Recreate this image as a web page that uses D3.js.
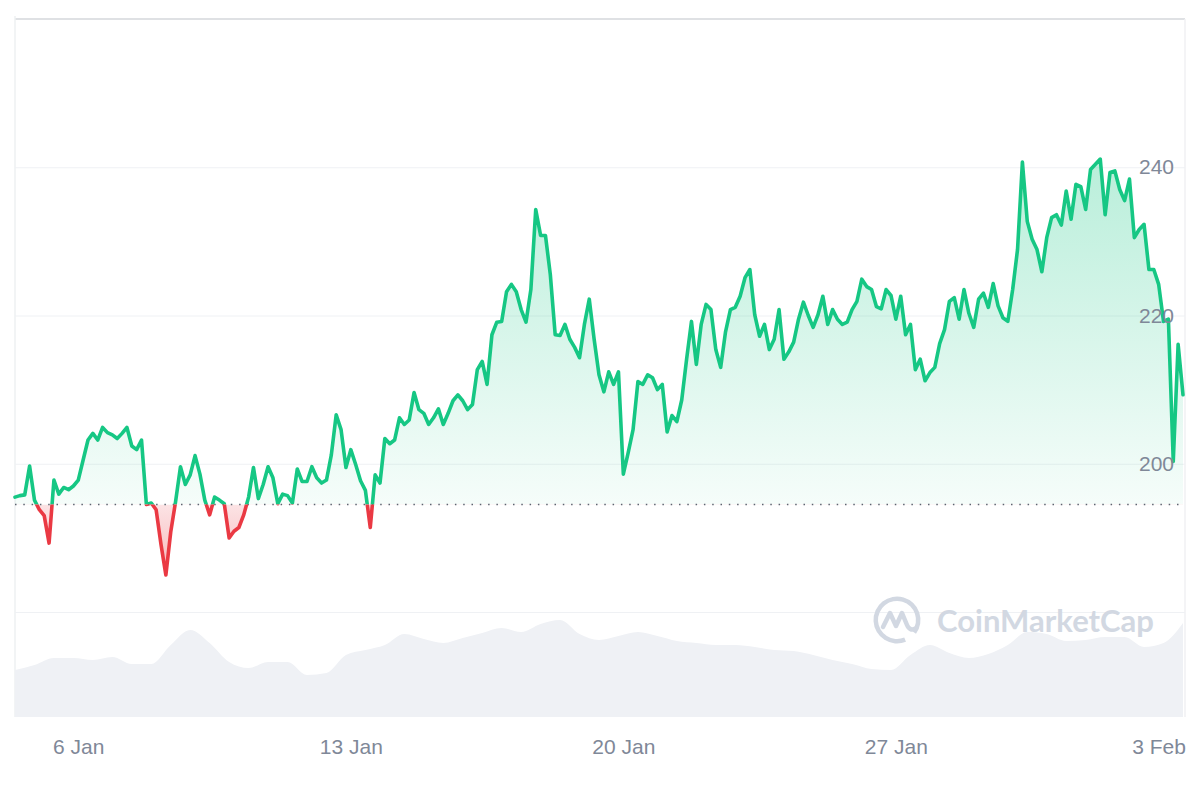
<!DOCTYPE html>
<html>
<head>
<meta charset="utf-8">
<script src="https://cdn.jsdelivr.net/npm/d3@7"></script>
<style>
  body { margin: 0; background: #fff; }
  svg { display: block; }
</style>
</head>
<body>
<script>
// price every 3 hours, starting 4 Jan 09:00
var startTime = new Date(2025, 0, 4, 9);
var stepHours = 3;
var prices = [
  195.5, 195.7, 195.8, 199.7, 195.1, 193.8, 193.0, 189.3, 197.8, 195.9,
  196.8, 196.5, 197.0, 197.8, 200.5, 203.2, 204.1, 203.2, 204.9, 204.2,
  203.9, 203.4, 204.1, 204.9, 202.4, 201.9, 203.2, 194.5, 194.7, 193.8,
  189.1, 185.0, 190.8, 194.9, 199.6, 197.2, 198.5, 201.1, 198.6, 195.1,
  193.1, 195.5, 195.1, 194.6, 190.0, 190.9, 191.4, 193.1, 195.5, 199.5,
  195.3, 197.2, 199.6, 198.1, 194.6, 195.9, 195.7, 194.7, 199.3, 197.6,
  197.6, 199.6, 198.1, 197.4, 197.8, 201.2, 206.6, 204.6, 199.5, 201.9,
  199.9, 197.7, 196.4, 191.4, 198.5, 197.4, 203.4, 202.7, 203.2, 206.2,
  205.3, 205.9, 209.6, 207.3, 206.8, 205.3, 206.2, 207.4, 205.3, 206.8,
  208.5, 209.3, 208.5, 207.3, 208.0, 212.7, 213.8, 210.7, 217.4, 219.1,
  219.2, 223.2, 224.2, 223.2, 220.8, 219.1, 223.5, 234.3, 230.8, 230.8,
  225.5, 217.4, 217.3, 218.8, 216.8, 215.7, 214.3, 218.8, 222.2, 216.8,
  212.0, 209.7, 212.4, 210.7, 212.4, 198.6, 201.5, 204.6, 211.1, 210.7,
  212.0, 211.6, 210.0, 210.7, 204.3, 206.5, 205.7, 208.6, 214.1, 219.2,
  213.4, 218.8, 221.5, 220.8, 215.4, 213.0, 217.8, 220.8, 221.1, 222.6,
  225.1, 226.2, 220.1, 217.2, 218.8, 215.4, 216.8, 220.8, 214.1, 215.1,
  216.4, 219.5, 221.8, 220.0, 218.4, 220.1, 222.6, 218.8, 220.8, 219.5,
  218.8, 219.1, 220.8, 221.9, 224.9, 223.9, 223.5, 221.2, 220.9, 223.5,
  222.7, 219.5, 222.6, 217.4, 218.8, 212.7, 214.1, 211.2, 212.3, 213.0,
  216.2, 218.1, 221.9, 222.4, 219.5, 223.5, 220.3, 218.4, 222.2, 223.0,
  221.1, 224.3, 221.3, 219.7, 219.2, 223.5, 228.9, 240.7, 232.7, 230.3,
  228.9, 225.9, 230.5, 233.2, 233.6, 232.2, 236.8, 233.0, 237.7, 237.4,
  234.3, 239.7, 240.4, 241.1, 233.6, 239.3, 239.5, 237.0, 235.5, 238.4,
  230.5, 231.6, 232.3, 226.2, 226.2, 224.2, 219.2, 219.5, 200.3, 216.1,
  209.3
];

// volume every 12 hours (relative units)
var volStepHours = 12;
var volumes = [
  470, 520, 590, 590, 570, 600, 530, 530, 720, 870,
  740, 550, 490, 550, 550, 420, 440, 620, 670, 720,
  830, 780, 740, 790, 840, 890, 850, 930, 970, 830,
  770, 810, 850, 810, 760, 740, 720, 720, 700, 670,
  660, 620, 570, 530, 480, 470, 620, 720, 640, 590,
  630, 720, 850, 830, 760, 770, 800, 800, 700, 740,
  940
];

var openPrice = 194.5;
var gridValues = [180, 200, 220, 240];
var priceLabels = [200, 220, 240];
var dateTicks = [new Date(2025, 0, 6), new Date(2025, 0, 13), new Date(2025, 0, 20),
                 new Date(2025, 0, 27), new Date(2025, 1, 3)];
var dateLabels = ["6 Jan", "13 Jan", "20 Jan", "27 Jan", "3 Feb"];

var width = 1200, height = 800;
var plotLeft = 15, plotRight = 1185, plotTop = 19, plotBottom = 717;
var green = "#16c784", red = "#ea3943";

var priceData = prices.map(function (p, i) {
  return { t: d3.timeHour.offset(startTime, i * stepHours), p: p };
});
var volData = volumes.map(function (v, i) {
  return { t: d3.timeHour.offset(startTime, i * volStepHours), v: v };
});

var svg = d3.select("body").append("svg").attr("width", width).attr("height", height);

var x = d3.scaleTime()
  .domain([startTime, priceData[priceData.length - 1].t])
  .range([plotLeft, 1183]);
var y = d3.scaleLinear().domain([180, 260]).range([612, plotTop]);
var yVol = d3.scaleLinear().domain([0, 1000]).range([plotBottom, 617]);
var baseY = y(openPrice);

var defs = svg.append("defs");
var gUp = defs.append("linearGradient").attr("id", "gUp")
  .attr("gradientUnits", "userSpaceOnUse").attr("x1", 0).attr("x2", 0)
  .attr("y1", 160).attr("y2", baseY);
gUp.append("stop").attr("offset", 0).attr("stop-color", green).attr("stop-opacity", 0.3);
gUp.append("stop").attr("offset", 1).attr("stop-color", green).attr("stop-opacity", 0.04);
var gDown = defs.append("linearGradient").attr("id", "gDown")
  .attr("gradientUnits", "userSpaceOnUse").attr("x1", 0).attr("x2", 0)
  .attr("y1", baseY).attr("y2", 580);
gDown.append("stop").attr("offset", 0).attr("stop-color", red).attr("stop-opacity", 0.14);
gDown.append("stop").attr("offset", 1).attr("stop-color", red).attr("stop-opacity", 0.38);

defs.append("clipPath").attr("id", "clipUp").append("rect")
  .attr("x", 0).attr("y", 0).attr("width", width).attr("height", baseY);
defs.append("clipPath").attr("id", "clipDown").append("rect")
  .attr("x", 0).attr("y", baseY).attr("width", width).attr("height", height - baseY);

// frame
svg.append("line").attr("x1", plotLeft).attr("x2", plotRight).attr("y1", plotTop).attr("y2", plotTop)
  .attr("stroke", "#dfe1e4").attr("stroke-width", 2);
svg.append("line").attr("x1", plotLeft).attr("x2", plotLeft).attr("y1", 16).attr("y2", plotBottom)
  .attr("stroke", "#eef0f2").attr("stroke-width", 1.5);
svg.append("line").attr("x1", plotRight).attr("x2", plotRight).attr("y1", plotTop).attr("y2", plotBottom)
  .attr("stroke", "#f0f1f3").attr("stroke-width", 1.5);

// grid lines
var grid = svg.append("g").attr("transform", "translate(" + plotLeft + ",0)")
  .call(d3.axisLeft(y).tickValues(gridValues).tickSize(-(plotRight - plotLeft)).tickFormat(""));
grid.select(".domain").remove();
grid.selectAll("line").attr("stroke", "#eff1f4").attr("stroke-width", 1);

// volume
svg.append("path").datum(volData)
  .attr("fill", "#eff1f5")
  .attr("d", d3.area().curve(d3.curveMonotoneX)
    .x(function (d) { return x(d.t); })
    .y0(plotBottom)
    .y1(function (d) { return yVol(d.v); }));

// watermark
var wm = svg.append("g").attr("transform", "translate(897,620)");
wm.append("path")
  .attr("d", d3.arc()({ innerRadius: 19, outerRadius: 23.5, startAngle: 2.75, endAngle: 2.75 + 2 * Math.PI - 0.55 }))
  .attr("fill", "#d2d8e2");
wm.append("path")
  .attr("d", "M-14,7 L-7,-7 L-1,6 L5,-7 L10,5 Q13,12 19,8")
  .attr("fill", "none").attr("stroke", "#d2d8e2").attr("stroke-width", 4.5)
  .attr("stroke-linejoin", "round").attr("stroke-linecap", "round");
svg.append("text").attr("x", 937).attr("y", 632)
  .attr("font-family", "Lato, 'Liberation Sans', sans-serif").attr("font-weight", 700)
  .attr("font-size", 30).attr("fill", "#d2d8e2")
  .attr("textLength", 217).attr("lengthAdjust", "spacingAndGlyphs")
  .text("CoinMarketCap");

// price areas
var area = d3.area()
  .x(function (d) { return x(d.t); })
  .y0(baseY)
  .y1(function (d) { return y(d.p); });
svg.append("path").datum(priceData).attr("clip-path", "url(#clipUp)")
  .attr("fill", "url(#gUp)").attr("d", area);
svg.append("path").datum(priceData).attr("clip-path", "url(#clipDown)")
  .attr("fill", "url(#gDown)").attr("d", area);

// open price line
svg.append("line").attr("x1", plotLeft).attr("x2", 1183).attr("y1", baseY).attr("y2", baseY)
  .attr("stroke", "#5d6470").attr("stroke-width", 1.5).attr("stroke-dasharray", "1.5,6.8");

// price line
var line = d3.line()
  .x(function (d) { return x(d.t); })
  .y(function (d) { return y(d.p); });
svg.append("path").datum(priceData).attr("clip-path", "url(#clipUp)")
  .attr("fill", "none").attr("stroke", green).attr("stroke-width", 3.6)
  .attr("stroke-linejoin", "round").attr("stroke-linecap", "round").attr("d", line);
svg.append("path").datum(priceData).attr("clip-path", "url(#clipDown)")
  .attr("fill", "none").attr("stroke", red).attr("stroke-width", 3.6)
  .attr("stroke-linejoin", "round").attr("stroke-linecap", "round").attr("d", line);

// price labels
var yAxis = svg.append("g").attr("transform", "translate(1174,0)")
  .call(d3.axisLeft(y).tickValues(priceLabels).tickSize(0).tickPadding(0));
yAxis.select(".domain").remove();
yAxis.selectAll("text").attr("fill", "#7f8898")
  .attr("font-family", "'Liberation Sans', Arial, sans-serif").attr("font-size", 21);

// date labels
var xAxis = svg.append("g").attr("transform", "translate(0," + plotBottom + ")")
  .call(d3.axisBottom(x).tickValues(dateTicks).tickSize(0).tickPadding(22)
    .tickFormat(function (d, i) { return dateLabels[i]; }));
xAxis.select(".domain").remove();
xAxis.selectAll("text").attr("fill", "#7f8898")
  .attr("font-family", "'Liberation Sans', Arial, sans-serif").attr("font-size", 21);
xAxis.selectAll("text").filter(function (d, i) { return i === dateLabels.length - 1; })
  .attr("text-anchor", "end").attr("x", 185 - 1168 + 1000);
</script>
</body>
</html>
